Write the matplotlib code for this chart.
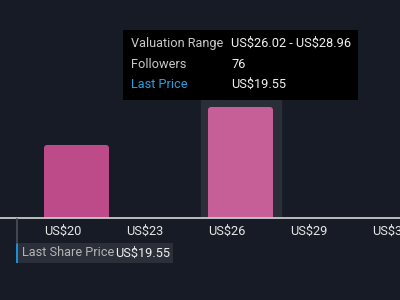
import matplotlib.pyplot as plt
from matplotlib.patches import FancyBboxPatch, Rectangle

# data
bin_starts = [20, 23, 26, 29, 32]
tick_labels = ["US$20", "US$23", "US$26", "US$29", "US$32"]
followers = [50, 0, 76, 0, 0]
highlight = 26
last_price = "US$19.55"
tip_labels = ["Valuation Range", "Followers", "Last Price"]
tip_values = ["US$26.02 - US$28.96", "76", "US$19.55"]

bg = "#161b25"
plt.rcParams["font.family"] = ["Roboto", "DejaVu Sans"]
fs = 9.2

fig = plt.figure(figsize=(4, 3), dpi=100, facecolor=bg)
W, H = 400, 300
base = 218  # pixel row of the axis line
ax = fig.add_axes([0, (H - base) / H, 1, base / H])
ax.set_facecolor(bg)
xpx = 82 / 3  # pixels per dollar
ax.set_xlim(20 - 44 / xpx, 20 + 356 / xpx)
ytop = max(followers) * 218 / 111
ax.set_ylim(0, ytop)
ypx = ytop / base

# highlight band behind the hovered bin
ax.axvspan(highlight - 7 / xpx, highlight + 73 / xpx, ymax=(base - 100) / base,
           color="#2a2e39", zorder=0)

# rounded bars
colors = ["#bd4a89" if b != highlight else "#c65f98" for b in bin_starts]
bw = 65 / xpx
for b, v, c in zip(bin_starts, followers, colors):
    if v <= 0:
        continue
    r = 3 / xpx
    p = FancyBboxPatch((b, -5 * ypx), bw, v + 5 * ypx,
                       boxstyle=f"round,pad=0,rounding_size={r}",
                       mutation_aspect=ypx * xpx, fc=c, ec="none", zorder=2)
    ax.add_patch(p)

for s in ["top", "left", "right"]:
    ax.spines[s].set_visible(False)
ax.spines["bottom"].set_color("#c8c8c8")
ax.spines["bottom"].set_linewidth(1.3)
ax.set_yticks([])
ax.set_xticks(bin_starts)
ax.set_xticklabels(tick_labels, color="#e6e6e6", fontsize=fs, ha="left",
                   parse_math=False)
ax.tick_params(axis="x", length=0, pad=5)


def fx(px):
    return px / W


def fy(py):
    return 1 - py / H


# last price marker
fig.add_artist(plt.Line2D([fx(16.5), fx(16.5)], [fy(219), fy(243)],
                          color="#4a4f5a", lw=1.2))
fig.add_artist(Rectangle((fx(16), fy(263)), fx(173) - fx(16), (263 - 243) / H,
                         transform=fig.transFigure, fc="#2a2f39", ec="none"))
fig.add_artist(Rectangle((fx(16), fy(263)), 2 / W, (263 - 243) / H,
                         transform=fig.transFigure, fc="#1b8fd8", ec="none"))
fig.text(fx(22), fy(253), "Last Share Price", color="#b4b4b4", fontsize=fs,
         va="center", parse_math=False)
fig.text(fx(115), fy(253), last_price, color="#f0f0f0", fontsize=fs,
         va="center", parse_math=False)

# tooltip
fig.add_artist(Rectangle((fx(123), fy(100)), (358 - 123) / W, 70 / H,
                         transform=fig.transFigure, fc="#000000", ec="none"))
rows = [43, 64, 84]
for i, (lab, val) in enumerate(zip(tip_labels, tip_values)):
    lc = "#2a9fe0" if lab == "Last Price" else "#c8c8c8"
    fig.text(fx(131), fy(rows[i]), lab, color=lc, fontsize=fs, va="center",
             parse_math=False)
    fig.text(fx(231), fy(rows[i]), val, color="#f0f0f0", fontsize=fs,
             va="center", parse_math=False)

fig.savefig("out.png", dpi=100, facecolor=bg)
